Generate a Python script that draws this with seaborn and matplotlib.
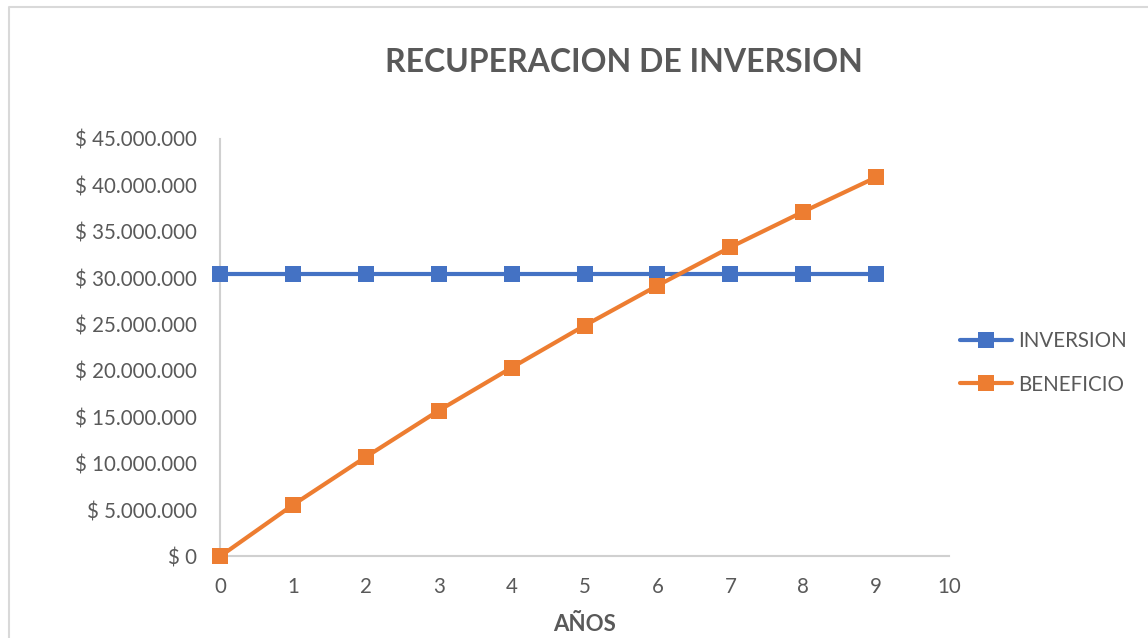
import matplotlib
matplotlib.use("Agg")
import matplotlib.pyplot as plt
import matplotlib.ticker as mticker
import seaborn as sns
import pandas as pd

# Data
anios = [0, 1, 2, 3, 4, 5, 6, 7, 8, 9]
inversion = [30450000] * 10
beneficio = [0, 5550000, 10720000, 15720000, 20350000,
             24880000, 29190000, 33330000, 37160000, 40870000]
series_names = ["INVERSION", "BENEFICIO"]
series_colors = ["#4472C4", "#ED7D31"]
x_ticks = list(range(0, 11))
y_ticks = list(range(0, 45000001, 5000000))

df = pd.DataFrame({
    "AÑOS": anios * 2,
    "valor": inversion + beneficio,
    "serie": [series_names[0]] * len(anios) + [series_names[1]] * len(anios),
})

sns.set_theme(style="white")
plt.rcParams["font.family"] = ["Lato", "DejaVu Sans"]

text_color = "#595959"
axis_color = "#D0D0D0"

fig = plt.figure(figsize=(11.48, 6.38), dpi=100)
ax = fig.add_axes([0.1916, 0.1278, 0.6351, 0.6544])

sns.lineplot(
    data=df, x="AÑOS", y="valor", hue="serie", style="serie",
    palette=dict(zip(series_names, series_colors)),
    markers={n: "s" for n in series_names}, dashes=False,
    linewidth=3, markersize=11, markeredgewidth=0,
    ax=ax, clip_on=False, zorder=3,
)

ax.set_xlim(0, 10)
ax.set_ylim(0, 45000000)
ax.set_xticks(x_ticks)
ax.set_yticks(y_ticks)


def peso_fmt(v, _pos):
    if v == 0:
        return "$ 0"
    return "$ " + f"{int(round(v)):,}".replace(",", ".")


ax.yaxis.set_major_formatter(mticker.FuncFormatter(peso_fmt))
ax.tick_params(axis="both", length=0, labelsize=14.8, labelcolor=text_color)
ax.tick_params(axis="y", pad=16.5)
ax.tick_params(axis="x", pad=15)

for side in ("top", "right"):
    ax.spines[side].set_visible(False)
for side in ("left", "bottom"):
    ax.spines[side].set_color(axis_color)
    ax.spines[side].set_linewidth(1.5)

ax.set_ylabel("")
ax.set_xlabel("AÑOS", fontsize=16, fontweight="bold", color=text_color, labelpad=12)

fig.text(0.5435, 0.902, "RECUPERACION DE INVERSION", ha="center", va="center",
         fontsize=23, fontweight="bold", color=text_color)

leg = ax.legend(
    loc="center left", bbox_to_anchor=(0.99, 0.464), frameon=False,
    fontsize=14.8, handlelength=2.5, handletextpad=0.3, labelspacing=1.15,
    title=None,
)
for t in leg.get_texts():
    t.set_color(text_color)

# Outer chart-area frame
frame = plt.Line2D([0.0077, 0.0077, 1.0], [0.0, 0.9883, 0.9883],
                   transform=fig.transFigure, color="#D9D9D9", linewidth=1.5)
fig.add_artist(frame)

fig.savefig("out.png", dpi=100, facecolor="white")
